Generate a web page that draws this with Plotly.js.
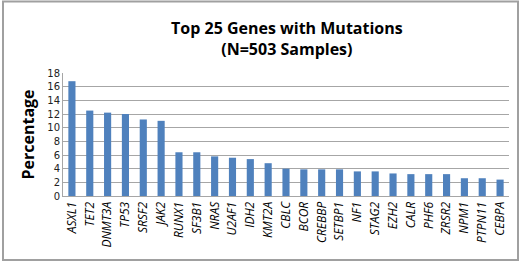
<!DOCTYPE html>
<html><head><meta charset="utf-8">
<script src="https://cdn.plot.ly/plotly-3.0.1.min.js"></script>
<style>html,body{margin:0;padding:0;background:#fff;}#chart{width:520px;height:262px;}</style>
</head><body><div id="chart"></div>
<script>
const genes = ["ASXL1","TET2","DNMT3A","TP53","SRSF2","JAK2","RUNX1","SF3B1","NRAS","U2AF1","IDH2","KMT2A","CBLC","BCOR","CREBBP","SETBP1","NF1","STAG2","EZH2","CALR","PHF6","ZRSR2","NPM1","PTPN11","CEBPA"];
const percentages = [16.8,12.5,12.2,12.0,11.2,11.0,6.4,6.4,5.8,5.6,5.4,4.8,4.0,3.9,3.9,3.9,3.6,3.6,3.3,3.2,3.2,3.2,2.6,2.6,2.4];
const yTicks = [0,2,4,6,8,10,12,14,16,18];

const trace = {
  type: "bar",
  x: genes,
  y: percentages,
  marker: {color: "#4f81bd", line: {width: 0}},
  hoverinfo: "x+y"
};
const layout = {
  width: 520, height: 262,
  margin: {l: 63, r: 11, t: 73, b: 66, pad: 0},
  paper_bgcolor: "#fff", plot_bgcolor: "#fff",
  bargap: 0.6,
  showlegend: false,
  font: {family: "Open Sans, Liberation Sans, sans-serif", color: "#000"},
  title: {
    text: "<b>Top 25 Genes with Mutations<br>(N=503 Samples)</b>",
    font: {size: 16, color: "#000", family: "Open Sans, sans-serif"},
    x: 0.502, xanchor: "center", xref: "paper",
    y: 1 - 34/262, yanchor: "middle", yref: "container"
  },
  xaxis: {
    type: "category",
    tickmode: "array",
    tickvals: genes,
    ticktext: genes.map(g => "<i>" + g + "</i>"),
    tickangle: -90,
    tickfont: {size: 12, color: "#000", family: "Open Sans, sans-serif"},
    showgrid: false, showline: true, linecolor: "#a6a6a6", linewidth: 1,
    ticks: "", zeroline: false, automargin: false
  },
  yaxis: {
    range: [0, 18],
    tickvals: yTicks,
    ticktext: yTicks.map(String),
    tickfont: {size: 10, color: "#222", family: "DejaVu Sans, sans-serif"},
    showgrid: true, gridcolor: "#a6a6a6", gridwidth: 1,
    showline: true, linecolor: "#a6a6a6", linewidth: 1,
    ticks: "", zeroline: false, automargin: false,
    title: {text: "<b>Percentage</b>", font: {size: 16, color: "#000", family: "Open Sans, sans-serif"}, standoff: 8}
  },
  shapes: [{
    type: "rect", xref: "paper", yref: "paper",
    x0: -60/446, x1: 455/446, y0: -64/123, y1: 194.5/123,
    line: {color: "#a0a0a0", width: 2}, fillcolor: "rgba(0,0,0,0)", layer: "below"
  }]
};
Plotly.newPlot("chart", [trace], layout, {displayModeBar: false, staticPlot: true});
</script>
</body></html>
